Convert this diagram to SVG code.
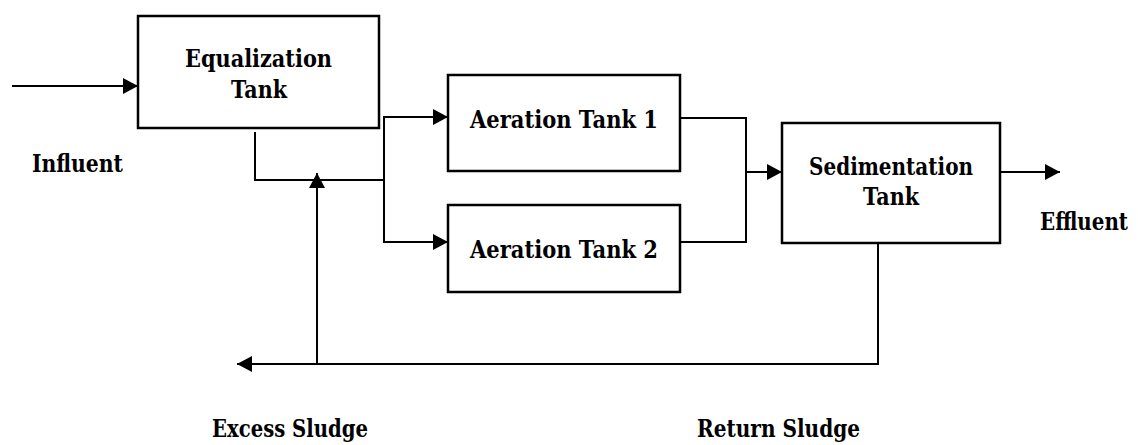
<svg xmlns="http://www.w3.org/2000/svg" width="1138" height="445" viewBox="0 0 1138 445">
  <style>
    .box { fill: #ffffff; stroke: #000000; stroke-width: 2.5; }
    .lbl { font-family: "DejaVu Serif", "Liberation Serif", serif; font-weight: bold; font-size: 24px; fill: #000000; }
    .mid { text-anchor: middle; }
    .wire { fill: none; stroke: #000000; stroke-width: 2; }
    .flow { marker-end: url(#arrow); }
  </style>
  <defs>
    <marker id="arrow" viewBox="0 0 15 16" refX="15" refY="8" markerWidth="15" markerHeight="16" markerUnits="userSpaceOnUse" orient="auto">
      <path d="M0,0 L15,8 L0,16 Z" fill="#000000"/>
    </marker>
  </defs>
  <rect width="1138" height="445" fill="#ffffff"/>

  <!-- process units -->
  <g id="equalization-tank">
    <rect class="box" x="138" y="16" width="241" height="112"/>
    <text class="lbl mid" x="258.5" y="67" textLength="147" lengthAdjust="spacingAndGlyphs">Equalization</text>
    <text class="lbl mid" x="259" y="98" textLength="56" lengthAdjust="spacingAndGlyphs">Tank</text>
  </g>
  <g id="aeration-tank-1">
    <rect class="box" x="448" y="75" width="232" height="96"/>
    <text class="lbl mid" x="564" y="128" textLength="188" lengthAdjust="spacingAndGlyphs">Aeration Tank 1</text>
  </g>
  <g id="aeration-tank-2">
    <rect class="box" x="448" y="205" width="232" height="87"/>
    <text class="lbl mid" x="564" y="258" textLength="188" lengthAdjust="spacingAndGlyphs">Aeration Tank 2</text>
  </g>
  <g id="sedimentation-tank">
    <rect class="box" x="782" y="123" width="218" height="120"/>
    <text class="lbl mid" x="891" y="175" textLength="164" lengthAdjust="spacingAndGlyphs">Sedimentation</text>
    <text class="lbl mid" x="891" y="205" textLength="56" lengthAdjust="spacingAndGlyphs">Tank</text>
  </g>

  <!-- stream labels -->
  <g id="labels">
    <text class="lbl" x="32" y="172" textLength="91" lengthAdjust="spacingAndGlyphs">Influent</text>
    <text class="lbl" x="1040" y="230" textLength="88" lengthAdjust="spacingAndGlyphs">Effluent</text>
    <text class="lbl" x="212" y="437" textLength="156" lengthAdjust="spacingAndGlyphs">Excess Sludge</text>
    <text class="lbl" x="697" y="437" textLength="163" lengthAdjust="spacingAndGlyphs">Return Sludge</text>
  </g>

  <!-- piping -->
  <g id="connectors">
    <line class="wire flow" x1="12" y1="86" x2="138" y2="86"/>
    <polyline class="wire" points="255,132 255,180 384,180"/>
    <line class="wire" x1="384" y1="117" x2="384" y2="242"/>
    <line class="wire flow" x1="383" y1="117" x2="448" y2="117"/>
    <line class="wire flow" x1="383" y1="242" x2="448" y2="242"/>
    <polyline class="wire" points="680,118 746,118 746,242 680,242"/>
    <line class="wire flow" x1="746" y1="172" x2="782" y2="172"/>
    <line class="wire flow" x1="1000" y1="172" x2="1060" y2="172"/>
    <polyline class="wire flow" points="878,243 878,364 237,364"/>
    <line class="wire flow" x1="317" y1="364" x2="317" y2="173"/>
  </g>
</svg>
